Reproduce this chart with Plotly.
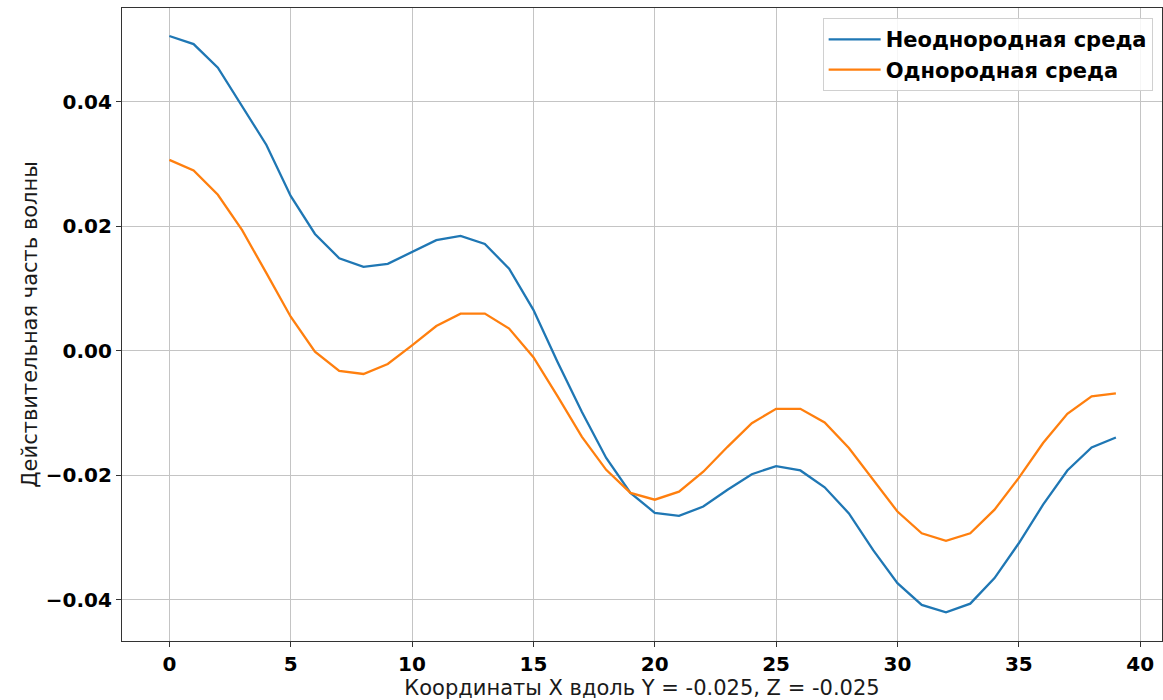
import plotly.graph_objects as go

# Sample positions along the X line
x_idx = list(range(40))

# Real part of the wave, inhomogeneous medium
inhomogeneous = [
    0.0506, 0.0493, 0.0455, 0.0394, 0.0331, 0.0249, 0.0188, 0.0149, 0.0135, 0.0140,
    0.0159, 0.0178, 0.0185, 0.0172, 0.0132, 0.0066, -0.0018, -0.0098, -0.0172, -0.0228,
    -0.0260, -0.0265, -0.0250, -0.0223, -0.0198, -0.0185, -0.0192, -0.0219, -0.0261, -0.0320,
    -0.0373, -0.0408, -0.0420, -0.0406, -0.0365, -0.0309, -0.0247, -0.0192, -0.0155, -0.0139,
]

# Real part of the wave, homogeneous medium
homogeneous = [
    0.0307, 0.0290, 0.0251, 0.0194, 0.0125, 0.0055, -0.0001, -0.0032, -0.0037, -0.0021,
    0.0009, 0.0040, 0.0060, 0.0060, 0.0036, -0.0010, -0.0073, -0.0138, -0.0191, -0.0228,
    -0.0239, -0.0226, -0.0194, -0.0154, -0.0116, -0.0093, -0.0093, -0.0115, -0.0156, -0.0207,
    -0.0258, -0.0293, -0.0305, -0.0293, -0.0255, -0.0204, -0.0148, -0.0101, -0.0073, -0.0068,
]

series_names = ["Неоднородная среда", "Однородная среда"]

x_tick_vals = [0, 5, 10, 15, 20, 25, 30, 35, 40]
x_tick_text = ["0", "5", "10", "15", "20", "25", "30", "35", "40"]
y_tick_vals = [-0.04, -0.02, 0.0, 0.02, 0.04]
y_tick_text = ["\u22120.04", "\u22120.02", "0.00", "0.02", "0.04"]

x_title = "Координаты X вдоль Y = -0.025, Z = -0.025"
y_title = "Действительная часть волны"

fig = go.Figure()
fig.add_trace(go.Scatter(
    x=x_idx, y=inhomogeneous, mode="lines", name=series_names[0],
    legendgroup="a", line=dict(color="#1f77b4", width=2.3),
))
fig.add_trace(go.Scatter(
    x=x_idx, y=homogeneous, mode="lines", name=series_names[1],
    legendgroup="b", line=dict(color="#ff7f0e", width=2.3),
))

tick_font = dict(family="DejaVu Sans", size=20, color="black", weight="bold")
title_font = dict(family="DejaVu Sans", size=21, color="#1a1a1a")

axis_common = dict(
    showgrid=True, gridcolor="#c4c4c4", gridwidth=1,
    showline=True, linecolor="#333333", linewidth=1.2, mirror=True,
    ticks="outside", ticklen=5, tickcolor="#333333", tickwidth=1,
    zeroline=False, tickfont=tick_font,
)

fig.update_xaxes(
    range=[-1.95, 40.9], tickmode="array",
    tickvals=x_tick_vals, ticktext=x_tick_text,
    title=dict(text=x_title, font=title_font, standoff=5),
    **axis_common,
)
fig.update_yaxes(
    range=[-0.0466, 0.0551], tickmode="array",
    tickvals=y_tick_vals, ticktext=y_tick_text,
    title=dict(text=y_title, font=title_font, standoff=2),
    **axis_common,
)

fig.update_layout(
    width=1163, height=700,
    margin=dict(l=122, r=1, t=8, b=59),
    plot_bgcolor="white", paper_bgcolor="white",
    showlegend=True,
    legend=dict(
        x=0.991, y=0.984, xanchor="right", yanchor="top",
        bgcolor="rgba(255,255,255,0.85)", bordercolor="#d0d0d0", borderwidth=1,
        font=dict(family="DejaVu Sans", size=21, color="black", weight="bold"),
        tracegroupgap=0, itemwidth=52,
    ),
)

fig.write_html("out.html")
